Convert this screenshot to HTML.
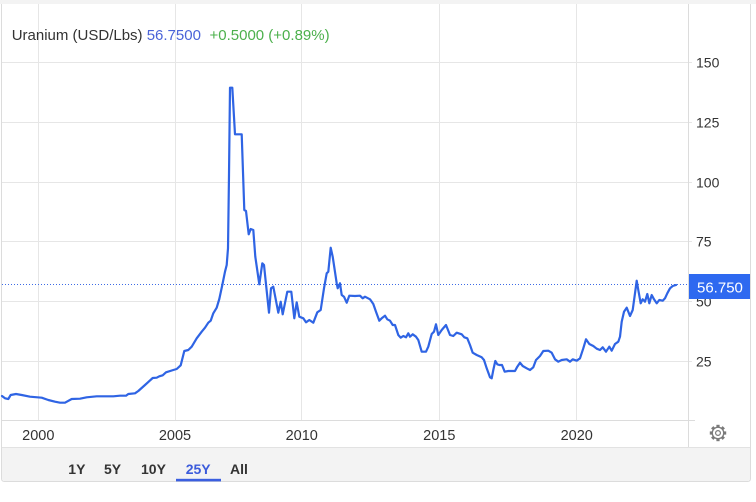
<!DOCTYPE html>
<html><head><meta charset="utf-8"><style>
html,body{margin:0;padding:0;background:#fff;width:756px;height:502px;overflow:hidden}
svg{display:block}
text{font-family:"Liberation Sans",Arial,sans-serif}
</style></head><body>
<svg width="756" height="502" viewBox="0 0 756 502" xmlns="http://www.w3.org/2000/svg">
<rect x="0" y="0" width="756" height="4" fill="#f3f3f3"/>
<!-- card -->
<path d="M1.5 4 V478.5 Q1.5 481.5 4.5 481.5 H747.5 Q750.5 481.5 750.5 478.5 V4" fill="#fff" stroke="#dcdcdc" stroke-width="1"/>
<!-- footer -->
<path d="M2 447.5 H750 V478.5 Q750 481 747.5 481 H4.5 Q2 481 2 478.5 Z" fill="#f3f3f3"/>
<line x1="2" y1="447.5" x2="750" y2="447.5" stroke="#e2e2e2"/>
<!-- horizontal grid -->
<g stroke="#e6e6e6" stroke-width="1">
<line x1="2" y1="62.5" x2="692" y2="62.5"/>
<line x1="2" y1="122.5" x2="692" y2="122.5"/>
<line x1="2" y1="182.5" x2="692" y2="182.5"/>
<line x1="2" y1="241.5" x2="692" y2="241.5"/>
<line x1="2" y1="301.5" x2="692" y2="301.5"/>
<line x1="2" y1="361.5" x2="692" y2="361.5"/>
<line x1="38.5" y1="4" x2="38.5" y2="420"/>
<line x1="175.5" y1="4" x2="175.5" y2="420"/>
<line x1="301.5" y1="4" x2="301.5" y2="420"/>
<line x1="439.5" y1="4" x2="439.5" y2="420"/>
<line x1="576.5" y1="4" x2="576.5" y2="420"/>
</g>
<line x1="2" y1="420.5" x2="695" y2="420.5" stroke="#dcdcdc"/>
<line x1="688.5" y1="4" x2="688.5" y2="447" stroke="#dcdcdc"/>
<!-- y labels -->
<g font-size="14" fill="#333">
<text x="696" y="67.5">150</text>
<text x="696" y="127.5">125</text>
<text x="696" y="187.5">100</text>
<text x="696" y="246.5">75</text>
<text x="696" y="306.5">50</text>
<text x="696" y="366.5">25</text>
</g>
<!-- x labels -->
<g font-size="14.5" fill="#333" text-anchor="middle">
<text x="38.3" y="440">2000</text>
<text x="175" y="440">2005</text>
<text x="301.7" y="440">2010</text>
<text x="439.3" y="440">2015</text>
<text x="576.7" y="440">2020</text>
</g>
<!-- title -->
<text y="40" font-size="15"><tspan x="11.7" fill="#333">Uranium (USD/Lbs)</tspan><tspan x="146.7" fill="#4a63d8">56.7500</tspan><tspan x="209.5" fill="#4cb04c">+0.5000 (+0.89%)</tspan></text>
<!-- dotted last price line -->
<line x1="2" y1="284.5" x2="688" y2="284.5" stroke="#3d6be6" stroke-width="1" stroke-dasharray="1,2"/>
<!-- series -->
<polyline fill="none" stroke="#2f64e4" stroke-width="2.2" stroke-linejoin="round" stroke-linecap="round" points="
2,396 5,398.3 8.3,399 10.7,395 16,394 21.7,395 30,396.7 41.7,397.7 48.3,400 55,401.7 60,402.7 65,402.7 71.7,399 80,398.7 86.7,397.3 96.7,396.3 113.3,396.3 120,395.7 126,395.7 128.3,394 135,393.3 138.3,391 145,385 152.7,378 156.7,377.7 159.3,376.3 162.7,375.3 166,372.3 173.3,370 176.7,369 180.7,365.3 184.3,351 188.3,350 191.7,346.7 196.7,338.3 201.7,331.7 205,327.7 208.3,322.7 210.7,320.7 213.3,313.3 216.7,307.7 219.3,299
222.3,285 225,271.7 226.7,265 228,248.3 229,175 230,87.7 232.3,87.7 235,134.3 241.7,134.3 244.3,210 246,211 248.7,234.3 250.7,229 253.3,230 255.3,256.7 259.3,284.3 262.3,263.3 264,265 266,284.3 269,312.7 271,288.3 273.3,286.7 278.3,312.7 280.7,301.7 282.7,314.3 287.3,291.7 291.3,291.7 294.3,318.3 296.7,302.3 299.3,316.7 303.3,318.3 306,322.3 309.3,320 313.3,322.7 317.3,312.3 320.7,310 324,288.3 326.7,273.3 328.3,271.7 330.7,247.7 332.7,256.7 336.7,283.3 337.7,288.3 340,283.3
341.7,295 344,296.7 346.7,302.7 349.3,295.7 355,296 360,295.7 362.7,298.3 365,296.7 370,299.3 373.3,304 376,311.7 379.3,320.7 381.7,318.3 385,315.7 387.3,319.3 390,320.7 392.7,325 395,325 398.3,335 400.7,337.7 403.3,336 406,337.3 408.3,333.3 410,336.7 412.7,334.3 416,336.7 418.3,340 421.7,351.7 426,351.7 428.3,346.7 431.7,334 434,331.7 436,324.3 438.3,335 441.7,330 446,325 450,335 453.3,336 456.7,332.7 461.7,334.3 464.3,337.3 467.3,338.3 470,345 472.7,352.7 476.7,355 481.7,357.3 484,360 486.7,368.3 490,377.3 491.7,378.3 493.3,370 495.3,361 497.3,364.3 499.3,365 502,365 504.7,371.7 508.3,371 515,371 517.3,366.7 520,362.7 522.7,366 526.7,368.3 530,370 533.3,367.3 536,360 540,356
543.3,351 548.3,350.7 551.7,352.7 555,359.3 558.3,361.7 561.7,360 566.7,359.3 570,361.7 572.7,359.3 576.7,360.7 580,358.3 583.3,348.3 586,339.3 589.3,344 593.3,346 596.7,348.7 600,350 602.7,347.3 606,351.7 609.3,346.7 611.7,350.7 615,344 618.3,341.7 620,336.7 621.7,321.7 624,311.7 626.7,307.7 630,316 632.7,310 635,293.3 636.7,280.7 638.3,290 640.7,303.3 642.7,299.3 645,301.7 647.3,294 649.3,303.3 651.7,295 654,299.3 656.7,303.3 659.3,300 662.7,300.7 665,298.3 667.3,293.3 670,288.3 672.7,286 676,285"/>
<!-- price tag -->
<rect x="689" y="274" width="61" height="25" fill="#2e69f0"/>
<text x="697" y="292.5" font-size="15" fill="#fff">56.750</text>
<!-- gear -->
<g transform="translate(718,433)" fill="#7a7a7a">
<rect x="-1.6" y="-8.2" width="3.2" height="3.4"/>
<rect x="-1.6" y="-8.2" width="3.2" height="3.4" transform="rotate(45)"/>
<rect x="-1.6" y="-8.2" width="3.2" height="3.4" transform="rotate(90)"/>
<rect x="-1.6" y="-8.2" width="3.2" height="3.4" transform="rotate(135)"/>
<rect x="-1.6" y="-8.2" width="3.2" height="3.4" transform="rotate(180)"/>
<rect x="-1.6" y="-8.2" width="3.2" height="3.4" transform="rotate(225)"/>
<rect x="-1.6" y="-8.2" width="3.2" height="3.4" transform="rotate(270)"/>
<rect x="-1.6" y="-8.2" width="3.2" height="3.4" transform="rotate(315)"/>
<circle r="6.4"/>
<circle r="5.1" fill="#fff"/>
<circle r="2.4" fill="none" stroke="#7a7a7a" stroke-width="1.2"/>
</g>
<!-- footer buttons -->
<g font-size="14" font-weight="bold" fill="#333">
<text x="68.3" y="474">1Y</text>
<text x="104" y="474">5Y</text>
<text x="141" y="474">10Y</text>
<text x="185.7" y="474" fill="#3b5bdb">25Y</text>
<text x="230" y="474">All</text>
</g>
<rect x="176" y="478.8" width="45" height="2.6" fill="#3b5fe0"/>
</svg>
</body></html>
